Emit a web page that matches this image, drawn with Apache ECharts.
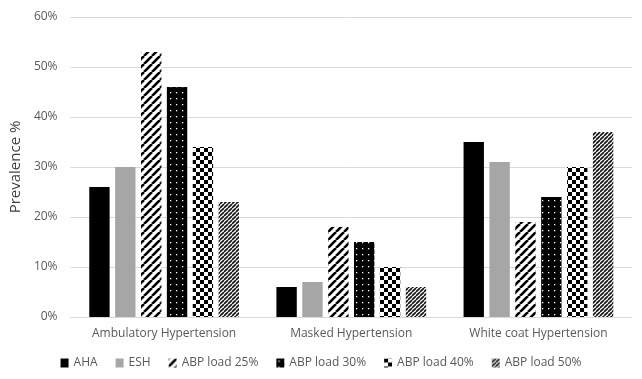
<!DOCTYPE html>
<html>
<head>
<meta charset="utf-8">
<script src="https://cdn.jsdelivr.net/npm/echarts@6/dist/echarts.min.js"></script>
<style>
  html, body { margin: 0; padding: 0; background: #fff; }
  #chart { width: 642px; height: 379px; }
</style>
</head>
<body>
<div id="chart"></div>
<script>
// Prevalencia por criterio, tres categorías de hipertensión
const categories = ['Ambulatory Hypertension', 'Masked Hypertension', 'White coat Hypertension'];
const seriesNames = ['AHA', 'ESH', 'ABP load 25%', 'ABP load 30%', 'ABP load 40%', 'ABP load 50%'];
const aha    = [26, 6, 35];
const esh    = [30, 7, 31];
const load25 = [53, 18, 19];
const load30 = [46, 15, 24];
const load40 = [34, 10, 30];
const load50 = [23, 6, 37];
const yTicks = [0, 10, 20, 30, 40, 50, 60];

function makeCanvas(size, drawFn) {
  const c = document.createElement('canvas');
  c.width = size; c.height = size;
  const ctx = c.getContext('2d');
  drawFn(ctx, size);
  return c;
}

function stripes(size, width, bg, fg) {
  return makeCanvas(size, (ctx, s) => {
    ctx.fillStyle = bg;
    ctx.fillRect(0, 0, s, s);
    ctx.strokeStyle = fg;
    ctx.lineWidth = width;
    for (let k = -1; k <= 1; k++) {
      ctx.beginPath();
      ctx.moveTo(k * s, s);
      ctx.lineTo(k * s + s, 0);
      ctx.stroke();
    }
  });
}

const pat25 = stripes(8, 2.6, '#fff', '#000');
const pat50 = stripes(4, 1.6, '#fff', '#111');
const pat30 = makeCanvas(6, (ctx, s) => {
  ctx.fillStyle = '#000';
  ctx.fillRect(0, 0, s, s);
  ctx.fillStyle = '#fff';
  ctx.fillRect(2, 2, 1.3, 1.3);
});
const pat40 = makeCanvas(8, (ctx, s) => {
  ctx.fillStyle = '#fff';
  ctx.fillRect(0, 0, s, s);
  ctx.fillStyle = '#000';
  ctx.fillRect(0, 0, 4, 4);
  ctx.fillRect(4, 4, 4, 4);
});

const fills = [
  '#000000',
  '#a6a6a6',
  { image: pat25, repeat: 'repeat' },
  { image: pat30, repeat: 'repeat' },
  { image: pat40, repeat: 'repeat' },
  { image: pat50, repeat: 'repeat' },
];
const values = [aha, esh, load25, load30, load40, load50];

const chart = echarts.init(document.getElementById('chart'), null, { renderer: 'canvas' });

const series = seriesNames.map((name, i) => ({
  name,
  type: 'bar',
  barGap: '27%',
  barCategoryGap: '20%',
  itemStyle: { color: fills[i] },
  data: values[i],
}));

chart.setOption({
  backgroundColor: '#fff',
  animation: false,
  grid: { left: 68, right: 10, top: 17, bottom: 62 },
  legend: {
    data: seriesNames,
    bottom: 5,
    left: 'center',
    icon: 'rect',
    itemWidth: 8,
    itemHeight: 9,
    itemGap: 18,
    textStyle: { color: '#595959', fontFamily: 'Open Sans, sans-serif', fontSize: 12 },
  },
  xAxis: {
    type: 'category',
    data: categories,
    axisLine: { lineStyle: { color: '#d9d9d9' } },
    axisTick: { show: false },
    axisLabel: { interval: 0, color: '#595959', fontFamily: 'Open Sans, sans-serif', fontSize: 12, margin: 11 },
  },
  yAxis: {
    type: 'value',
    min: yTicks[0],
    max: yTicks[yTicks.length - 1],
    interval: 10,
    name: 'Prevalence %',
    nameLocation: 'middle',
    nameGap: 35,
    nameTextStyle: { color: '#404040', fontFamily: 'Open Sans, sans-serif', fontSize: 15 },
    axisLine: { show: false },
    axisTick: { show: false },
    axisLabel: { color: '#595959', fontFamily: 'Open Sans, sans-serif', fontSize: 12, formatter: '{value}%', margin: 13 },
    splitLine: { lineStyle: { color: '#d9d9d9' } },
  },
  series,
});
</script>
</body>
</html>
